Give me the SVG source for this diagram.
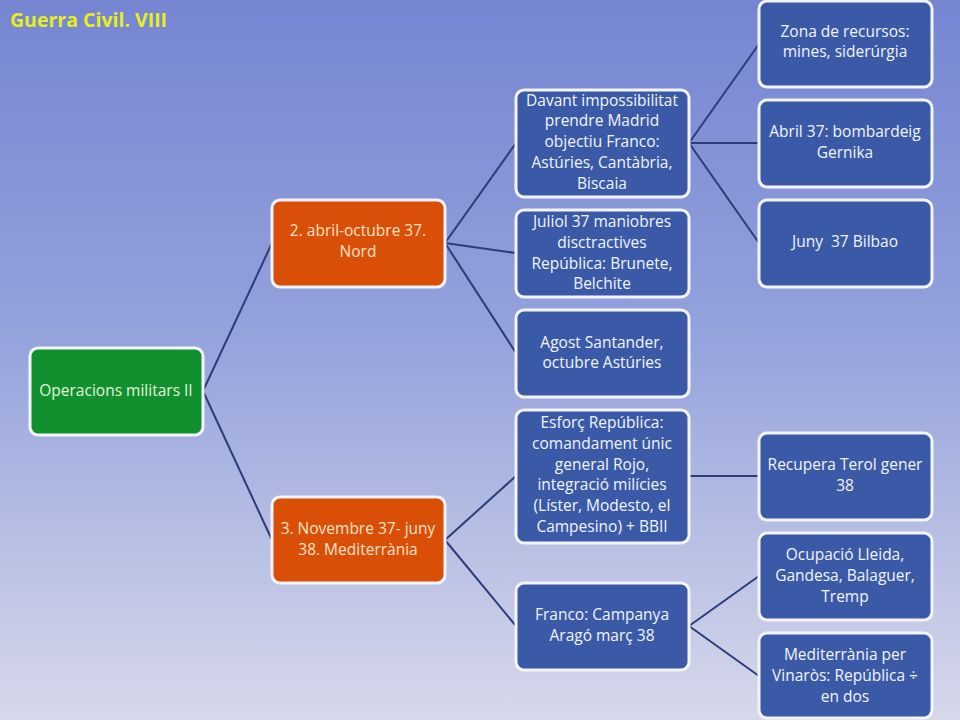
<svg xmlns="http://www.w3.org/2000/svg" width="960" height="720" viewBox="0 0 960 720">
<defs>
<linearGradient id="bg" x1="0" y1="0" x2="0" y2="1">
<stop offset="0" stop-color="#7585d2"/>
<stop offset="0.45" stop-color="#93a1dc"/>
<stop offset="1" stop-color="#d6d8ea"/>
</linearGradient>
</defs>
<style>
.box{stroke:#f4f4f8;stroke-width:3}
.green{fill:#11902f}
.orange{fill:#d94f08}
.blue{fill:#3a5aa7}
.t{font-family:"Open Sans","Liberation Sans",sans-serif;font-size:15.5px;text-anchor:middle}
.tg{fill:#e4f4d8}
.to{fill:#fbe3c8}
.tb{fill:#f2f4ff}
.conn line{stroke:#2b3c78;stroke-width:2}
</style>
<rect width="960" height="720" fill="url(#bg)"/>
<text x="10" y="27" font-family="'Open Sans','Liberation Sans',sans-serif" font-size="19.5" font-weight="bold" fill="#e6ef1c">Guerra Civil. VIII</text>
<g id="connectors" class="conn">
<line x1="203" y1="391" x2="272" y2="243"/>
<line x1="203" y1="391" x2="272" y2="540"/>
<line x1="445" y1="243" x2="516" y2="143"/>
<line x1="445" y1="243" x2="516" y2="253"/>
<line x1="445" y1="243" x2="516" y2="353"/>
<line x1="689" y1="143" x2="759" y2="44"/>
<line x1="689" y1="143" x2="759" y2="143"/>
<line x1="689" y1="143" x2="759" y2="243"/>
<line x1="445" y1="540" x2="516" y2="476"/>
<line x1="445" y1="540" x2="516" y2="626"/>
<line x1="689" y1="476" x2="759" y2="476"/>
<line x1="689" y1="626" x2="759" y2="576"/>
<line x1="689" y1="626" x2="759" y2="676"/>
</g>
<g id="n-root"><rect class="box green" x="30" y="348" width="173" height="87" rx="8"/>
<text class="t tg" x="116" y="396">Operacions militars II</text></g>
<g id="n-nord"><rect class="box orange" x="272" y="200" width="173" height="87" rx="8"/>
<text class="t to" x="358" y="236">2. abril-octubre 37.</text><text class="t to" x="358" y="257">Nord</text></g>
<g id="n-med"><rect class="box orange" x="272" y="497" width="173" height="86" rx="8"/>
<text class="t to" x="358" y="534">3. Novembre 37- juny</text><text class="t to" x="358" y="555">38. Mediterrània</text></g>
<g id="n-davant"><rect class="box blue" x="516" y="90" width="173" height="107" rx="8"/>
<text class="t tb" x="602" y="106">Davant impossibilitat</text><text class="t tb" x="602" y="126">prendre Madrid</text><text class="t tb" x="602" y="147">objectiu Franco:</text><text class="t tb" x="602" y="168">Astúries, Cantàbria,</text><text class="t tb" x="602" y="189">Biscaia</text></g>
<g id="n-juliol"><rect class="box blue" x="516" y="210" width="173" height="87" rx="8"/>
<text class="t tb" x="602" y="227">Juliol 37 maniobres</text><text class="t tb" x="602" y="248">disctractives</text><text class="t tb" x="602" y="269">República: Brunete,</text><text class="t tb" x="602" y="289">Belchite</text></g>
<g id="n-agost"><rect class="box blue" x="516" y="310" width="173" height="87" rx="8"/>
<text class="t tb" x="602" y="348">Agost Santander,</text><text class="t tb" x="602" y="368">octubre Astúries</text></g>
<g id="n-esforc"><rect class="box blue" x="516" y="410" width="173" height="133" rx="8"/>
<text class="t tb" x="602" y="428">Esforç República:</text><text class="t tb" x="602" y="449">comandament únic</text><text class="t tb" x="602" y="470">general Rojo,</text><text class="t tb" x="602" y="490">integració milícies</text><text class="t tb" x="602" y="511">(Líster, Modesto, el</text><text class="t tb" x="602" y="532">Campesino) + BBII</text></g>
<g id="n-franco"><rect class="box blue" x="516" y="583" width="173" height="87" rx="8"/>
<text class="t tb" x="602" y="620">Franco: Campanya</text><text class="t tb" x="602" y="641">Aragó març 38</text></g>
<g id="n-zona"><rect class="box blue" x="759" y="1" width="173" height="86" rx="8"/>
<text class="t tb" x="845" y="37">Zona de recursos:</text><text class="t tb" x="845" y="57">mines, siderúrgia</text></g>
<g id="n-abril"><rect class="box blue" x="759" y="100" width="173" height="87" rx="8"/>
<text class="t tb" x="845" y="137">Abril 37: bombardeig</text><text class="t tb" x="845" y="158">Gernika</text></g>
<g id="n-juny"><rect class="box blue" x="759" y="200" width="173" height="87" rx="8"/>
<text class="t tb" x="845" y="247">Juny&#160; 37 Bilbao</text></g>
<g id="n-terol"><rect class="box blue" x="759" y="433" width="173" height="87" rx="8"/>
<text class="t tb" x="845" y="470">Recupera Terol gener</text><text class="t tb" x="845" y="491">38</text></g>
<g id="n-lleida"><rect class="box blue" x="759" y="533" width="173" height="87" rx="8"/>
<text class="t tb" x="845" y="560">Ocupació Lleida,</text><text class="t tb" x="845" y="581">Gandesa, Balaguer,</text><text class="t tb" x="845" y="602">Tremp</text></g>
<g id="n-vinaros"><rect class="box blue" x="759" y="633" width="173" height="85" rx="8"/>
<text class="t tb" x="845" y="660">Mediterrània per</text><text class="t tb" x="845" y="681">Vinaròs: República ÷</text><text class="t tb" x="845" y="702">en dos</text></g>
</svg>
